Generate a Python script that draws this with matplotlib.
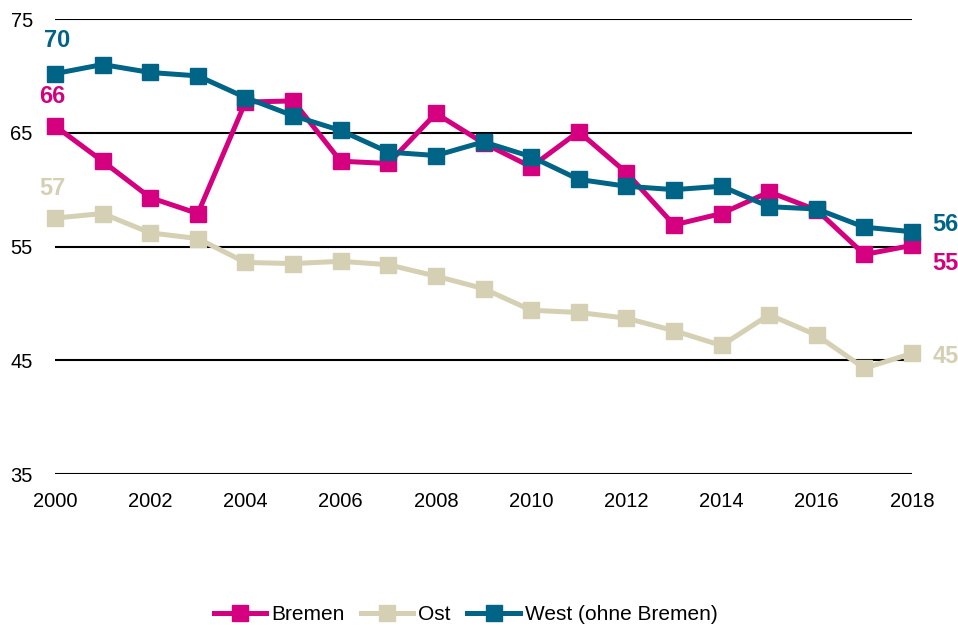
import matplotlib
matplotlib.use("Agg")
import matplotlib.pyplot as plt
from matplotlib import font_manager

years = list(range(2000, 2019))
bremen = [65.6, 62.5, 59.3, 57.9, 67.7, 67.8, 62.5, 62.3, 66.7, 64.1, 62.0, 65.1, 61.5, 56.9, 57.9, 59.8, 58.2, 54.3, 55.1]
ost = [57.5, 57.9, 56.2, 55.7, 53.6, 53.5, 53.7, 53.4, 52.4, 51.3, 49.4, 49.2, 48.7, 47.6, 46.3, 49.0, 47.2, 44.3, 45.6]
west = [70.2, 71.0, 70.3, 70.0, 68.1, 66.5, 65.2, 63.3, 63.0, 64.2, 62.9, 60.9, 60.3, 60.0, 60.3, 58.5, 58.3, 56.7, 56.3]
labels = ["Bremen", "Ost", "West (ohne Bremen)"]
colors = ["#d4007f", "#d5cfb3", "#006486"]
yticks = [35, 45, 55, 65, 75]
xticks = list(range(2000, 2019, 2))
start_labels = ["66", "57", "70"]
end_labels = ["55", "45", "56"]

avail = {f.name for f in font_manager.fontManager.ttflist}
fam = "Liberation Sans Narrow" if "Liberation Sans Narrow" in avail else "Liberation Sans"
plt.rcParams["font.family"] = [fam, "DejaVu Sans"]

fig = plt.figure(figsize=(9.58, 6.3), dpi=100)
ax = fig.add_axes([0.0574, 0.2476, 0.8946, 0.7222])

for y in yticks:
    ax.axhline(y, color="black", lw=1.5, zorder=1)

series = [bremen, ost, west]
for data, lab, c in zip(series, labels, colors):
    ax.plot(years, data, color=c, lw=3.6, marker="s", markersize=11.5,
            label=lab, clip_on=False, zorder=3)

lab_kw = dict(fontsize=17, fontweight="bold", ha="center", va="center")
# start labels
ax.text(2000.05, west[0] + 2.9, start_labels[2], color=colors[2], **lab_kw)
ax.text(1999.95, bremen[0] + 2.6, start_labels[0], color=colors[0], **lab_kw)
ax.text(1999.95, ost[0] + 2.6, start_labels[1], color=colors[1], **lab_kw)
# end labels
ax.text(2018.7, west[-1] + 0.6, end_labels[2], color=colors[2], **lab_kw)
ax.text(2018.7, bremen[-1] - 1.6, end_labels[0], color=colors[0], **lab_kw)
ax.text(2018.7, ost[-1] - 0.3, end_labels[1], color=colors[1], **lab_kw)

ax.set_xlim(2000, 2018)
ax.set_ylim(35, 75)
ax.set_yticks(yticks)
ax.set_xticks(xticks)
ax.tick_params(axis="both", length=0, labelsize=14.5)
ax.tick_params(axis="y", pad=16)
ax.tick_params(axis="x", pad=13)
for s in ax.spines.values():
    s.set_visible(False)

leg = fig.legend(loc="center", bbox_to_anchor=(0.486, 0.024), ncol=3, frameon=False,
                 fontsize=15, handlelength=2.5, columnspacing=0.8, handletextpad=0.25)

fig.savefig("out.png", dpi=100)
